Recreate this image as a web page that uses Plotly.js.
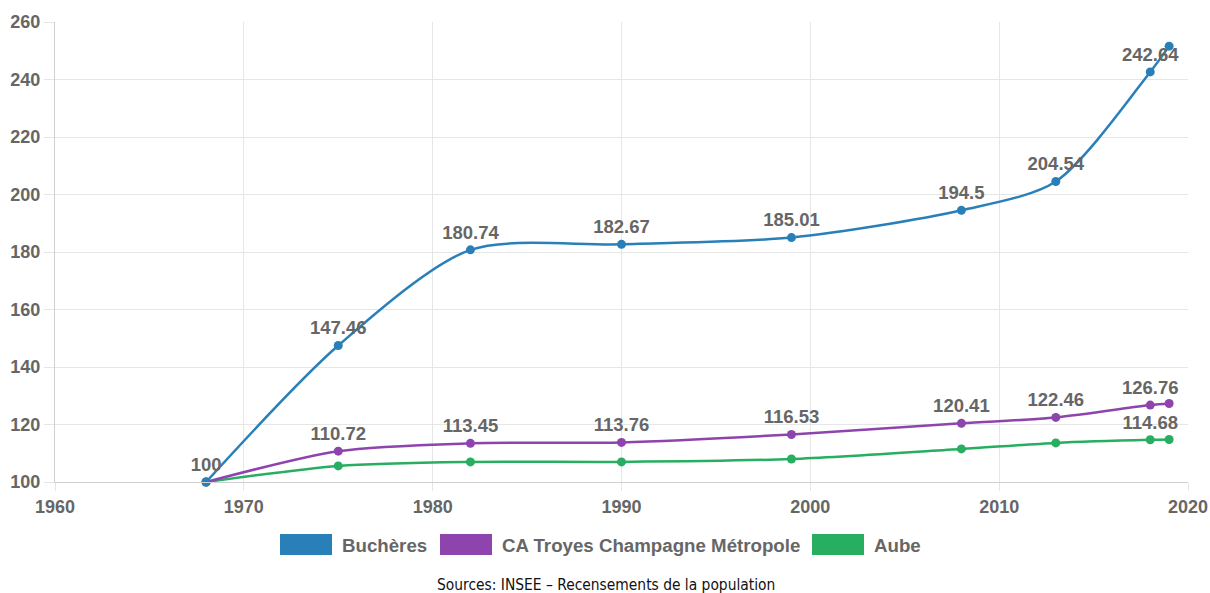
<!DOCTYPE html>
<html>
<head>
<meta charset="utf-8">
<script src="https://cdn.plot.ly/plotly-3.0.1.min.js"></script>
<style>
html,body{margin:0;padding:0;background:#fff;}
#chart{width:1210px;height:593px;}
</style>
</head>
<body>
<div id="chart"></div>
<script>
const years = [1968, 1975, 1982, 1990, 1999, 2008, 2013, 2018, 2019];
const bucheres = [100, 147.46, 180.74, 182.67, 185.01, 194.5, 204.54, 242.64, 251.6];
const troyes = [100, 110.72, 113.45, 113.76, 116.53, 120.41, 122.46, 126.76, 127.3];
const aube = [100, 105.6, 107.0, 107.0, 108.0, 111.5, 113.6, 114.68, 114.8];
const bucheresLabels = ["100", "147.46", "180.74", "182.67", "185.01", "194.5", "204.54", "242.64", ""];
const troyesLabels = ["", "110.72", "113.45", "113.76", "116.53", "120.41", "122.46", "126.76", ""];
const aubeLabels = ["", "", "", "", "", "", "", "114.68", ""];
const seriesNames = ["Buchères", "CA Troyes Champagne Métropole", "Aube"];
const colors = ["#2980b9", "#8e44ad", "#27ae60"];
const xTicks = [1960, 1970, 1980, 1990, 2000, 2010, 2020];
const yTicks = [100, 120, 140, 160, 180, 200, 220, 240, 260];

const FAM = "Liberation Sans, Arial, sans-serif";
const labelFont = {family: FAM, size: 18.5, color: "#666", weight: "bold"};
function mk(y, labels, i) {
  return {
    x: years, y: y, name: seriesNames[i], type: "scatter",
    mode: "lines+markers+text",
    text: labels, textposition: "top center", textfont: labelFont,
    line: {color: colors[i], width: 2.5, shape: "spline", smoothing: 0.8},
    marker: {color: colors[i], size: 9},
    cliponaxis: false, hoverinfo: "x+y"
  };
}
// draw order: Aube, Troyes, Buchères on top
const data = [mk(aube, aubeLabels, 2), mk(troyes, troyesLabels, 1), mk(bucheres, bucheresLabels, 0)];

const tickFont = {family: FAM, size: 18, color: "#666", weight: "bold"};
const legendFont = {family: FAM, size: 18.7, color: "#666", weight: "bold"};

// custom legend (pixel positions converted to paper coords)
const legendItems = [
  {x0: 280, label: 0},
  {x0: 440, label: 1},
  {x0: 812, label: 2}
];
const px = v => (v - 55) / 1133;
const py = v => (482 - v) / 460;
const shapes = [];
const annotations = [];
legendItems.forEach(it => {
  const i = it.label;
  shapes.push({type: "rect", xref: "paper", yref: "paper",
    x0: px(it.x0), x1: px(it.x0 + 52),
    y0: py(555), y1: py(534),
    fillcolor: colors[i], line: {width: 0}});
  annotations.push({xref: "paper", yref: "paper",
    x: px(it.x0 + 60), y: py(545),
    xanchor: "left", yanchor: "middle", showarrow: false,
    text: seriesNames[i], font: legendFont});
});
annotations.push({xref: "paper", yref: "paper", x: px(606), y: py(585),
  xanchor: "center", yanchor: "middle", showarrow: false,
  text: "Sources: INSEE – Recensements de la population",
  font: {family: "DejaVu Sans Condensed, DejaVu Sans, sans-serif", size: 15.4, color: "#111"}});

const layout = {
  width: 1210, height: 593,
  margin: {l: 55, r: 22, t: 22, b: 111},
  paper_bgcolor: "#fff", plot_bgcolor: "#fff",
  showlegend: false,
  xaxis: {range: [1960, 2020], tickvals: xTicks, ticktext: xTicks.map(String),
    showgrid: true, gridcolor: "#e6e6e6", gridwidth: 1, zeroline: false,
    showline: true, linecolor: "#d0d0d0", linewidth: 1,
    ticks: "outside", ticklen: 8, tickcolor: "#e6e6e6",
    tickfont: tickFont, fixedrange: true},
  yaxis: {range: [100, 260], tickvals: yTicks, ticktext: yTicks.map(String),
    showgrid: true, gridcolor: "#e6e6e6", gridwidth: 1, zeroline: false,
    showline: true, linecolor: "#d0d0d0", linewidth: 1,
    ticks: "outside", ticklen: 10, tickcolor: "#e6e6e6",
    tickfont: tickFont, fixedrange: true},
  shapes: shapes, annotations: annotations
};
Plotly.newPlot("chart", data, layout, {displayModeBar: false});
</script>
</body>
</html>
